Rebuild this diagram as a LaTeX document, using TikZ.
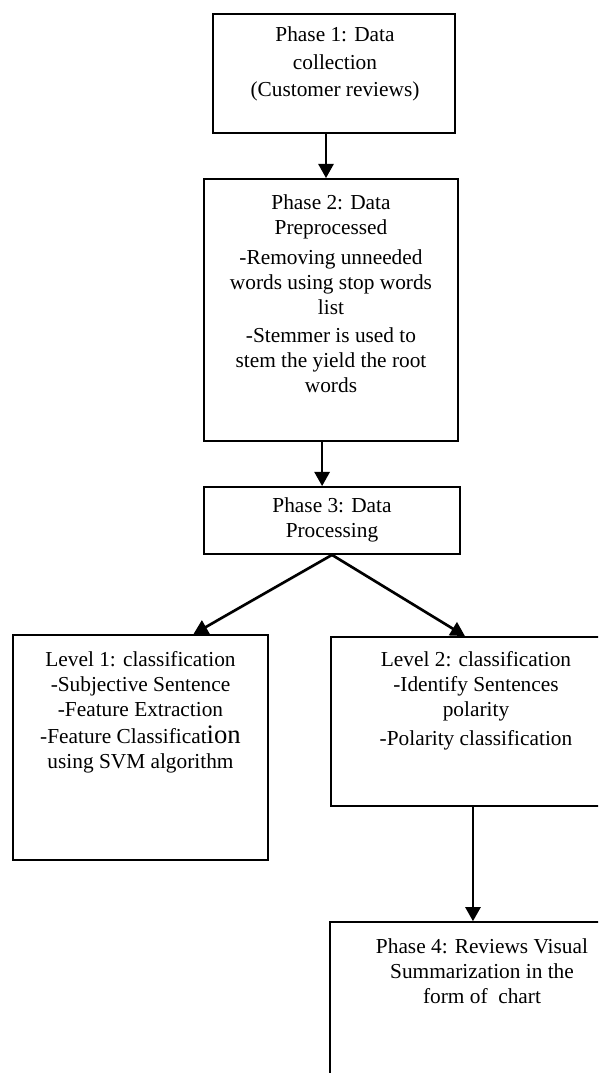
\documentclass[tikz,border=0pt]{standalone}
\usepackage{fontspec}
\setmainfont{Liberation Serif}
\usetikzlibrary{arrows.meta}

\begin{document}
\begin{tikzpicture}[x=0.5625pt,y=-0.5625pt,
  box/.style={draw,line width=1pt,rectangle,inner sep=0pt},
  txt/.style={anchor=north,align=center,inner sep=0pt,font=\fontsize{12}{14}\selectfont},
  arr/.style={line width=1.5pt,-{Triangle[width=8.5pt,length=8pt]}}]
  \clip (0,0) rectangle (598,1073);
  % boxes
  \node[box,minimum width=136.1pt,minimum height=66.9pt] (phase1) at (334,73.5) {};
  \node[box,minimum width=142.9pt,minimum height=147.4pt] (phase2) at (331,310) {};
  \node[box,minimum width=144pt,minimum height=37.7pt] (phase3) at (332,520.5) {};
  \node[box,minimum width=143.4pt,minimum height=126.6pt] (level1) at (140.5,747.5) {};
  \node[box,minimum width=163.1pt,minimum height=95.1pt] (level2) at (476,721.5) {};
  \node[box,minimum width=171pt,minimum height=100pt] (phase4) at (482,1011) {};
  % texts
  \node[txt,font=\fontsize{12}{15.5}\selectfont] (phase1txt) at (335,26.5)
    {Phase 1: Data\\collection\\(Customer reviews)};
  \node[txt] (phase2txt) at (331,194.5) {Phase 2: Data\\Preprocessed\\[3pt]
    -Removing unneeded\\words using stop words\\list\\[2pt]
    -Stemmer is used to\\stem the yield the root\\words};
  \node[txt] (phase3txt) at (332,497.5) {Phase 3: Data\\Processing};
  \node[txt] (level1txt) at (140.5,651.5) {Level 1: classification\\-Subjective Sentence\\
    -Feature Extraction\\[1pt]-Feature Classificat{\fontsize{15}{14}\selectfont ion}\\using SVM algorithm};
  \node[txt] (level2txt) at (476,651.5) {Level 2: classification\\-Identify Sentences\\polarity\\[2pt]
    -Polarity classification};
  \node[txt] (phase4txt) at (482,938.5) {Phase 4: Reviews Visual\\Summarization in the\\form of~~chart};
  % arrows
  \draw[arr] ([xshift=-4.5pt]phase1.south) -- ([xshift=-4.5pt]phase1.south |- phase2.north);
  \draw[arr] ([xshift=-5pt]phase2.south) -- ([xshift=-5pt]phase2.south |- phase3.north);
  \draw[arr] (phase3.south) -- ([xshift=29.8pt]level1.north);
  \draw[arr] (phase3.south) -- ([xshift=-6.2pt]level2.north);
  \draw[arr] ([xshift=-1.7pt]level2.south) -- ([xshift=-1.7pt]level2.south |- phase4.north);
\end{tikzpicture}
\end{document}
